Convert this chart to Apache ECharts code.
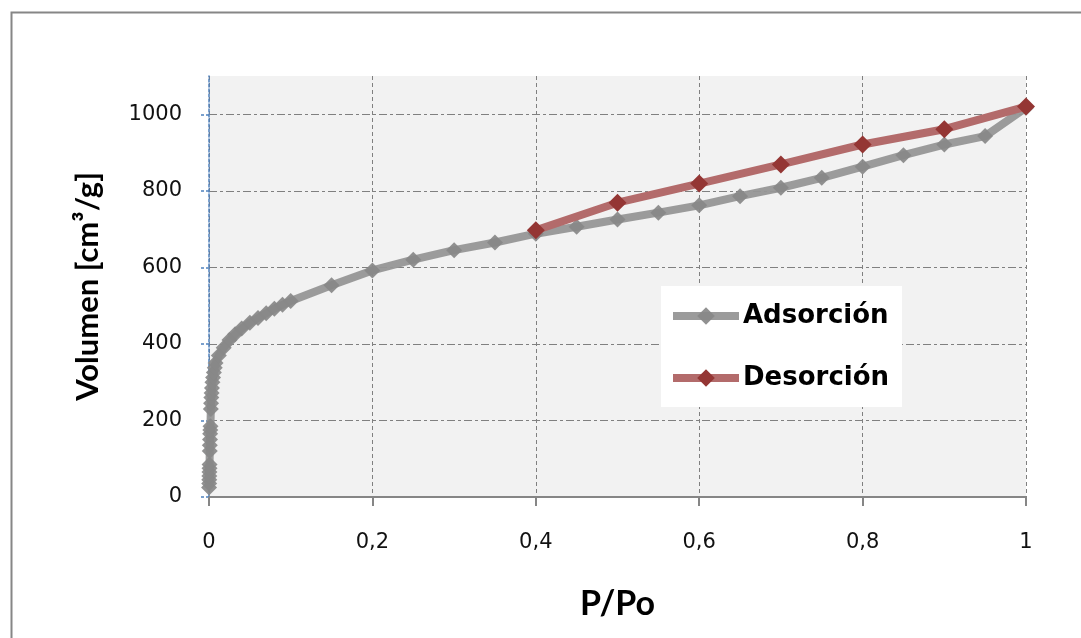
<!DOCTYPE html>
<html>
<head>
<meta charset="utf-8">
<script src="https://cdn.jsdelivr.net/npm/echarts@6/dist/echarts.min.js"></script>
<style>html,body{margin:0;padding:0;background:#fff;}#c{width:1081px;height:638px;}</style>
</head>
<body>
<div id="c"></div>
<script>
const seriesNames = ['Adsorción', 'Desorción'];
const adsorcionX = [0.0001,0.0002,0.0003,0.0004,0.0005,0.0006,0.0007,0.0009,0.001,0.0012,0.0014,0.0016,0.0018,0.0022,0.0025,0.0028,0.0032,0.0036,0.0042,0.005,0.006,0.007,0.008,0.012,0.018,0.025,0.032,0.04,0.05,0.06,0.07,0.08,0.09,0.1,0.15,0.2,0.25,0.3,0.35,0.4,0.45,0.5,0.55,0.6,0.65,0.7,0.75,0.8,0.85,0.9,0.95,1.0];
const adsorcionY = [25,35,45,55,65,75,85,120,135,150,165,175,185,230,245,260,272,285,300,312,325,338,350,370,390,410,425,440,455,468,480,492,502,512,553,592,620,645,665,688,706,725,743,762,786,808,834,863,893,921,943,1017];
const desorcionX = [0.4,0.5,0.6,0.7,0.8,0.9,1.0];
const desorcionY = [697,769,819,869,921,961,1020];
const xTickValues = [0, 0.2, 0.4, 0.6, 0.8, 1];
const xTicks = ['0','0,2','0,4','0,6','0,8','1'];
const yTickValues = [0, 200, 400, 600, 800, 1000];
const yTicks = ['0','200','400','600','800','1000'];

const pair = (xs, ys) => xs.map((x, i) => [x, ys[i]]);
const TITLE_FONT = 'Lato, "Open Sans", sans-serif';
const TICK_FONT = '"DejaVu Sans", Verdana, sans-serif';

const chart = echarts.init(document.getElementById('c'), null, {renderer: 'canvas'});
chart.setOption({
  animation: false,
  backgroundColor: '#ffffff',
  graphic: [{
    type: 'rect', left: 9, top: 10,
    shape: {x: 0, y: 0, width: 1100, height: 700},
    style: {fill: 'none', stroke: '#868686', lineWidth: 2},
    silent: true
  }],
  grid: {
    left: 209, right: 55, top: 76, bottom: 141,
    show: true, backgroundColor: '#f2f2f2', borderWidth: 0
  },
  legend: {
    left: 661, top: 286,
    orient: 'vertical',
    backgroundColor: '#ffffff',
    padding: [15, 13, 14, 8],
    itemGap: 32,
    itemWidth: 66, itemHeight: 22,
    lineStyle: {width: 8},
    textStyle: {fontFamily: TICK_FONT, fontSize: 26, lineHeight: 30, color: '#000', fontWeight: 'bold', padding: [0, 0, 0, -1]},
    data: [seriesNames[0], seriesNames[1]]
  },
  xAxis: {
    type: 'value', min: 0, max: 1, interval: 0.2,
    name: 'P/Po', nameLocation: 'middle', nameGap: 90,
    nameTextStyle: {fontFamily: TITLE_FONT, fontSize: 34, fontWeight: 'bold', color: '#000'},
    axisLine: {show: true, lineStyle: {color: '#868686', width: 2}},
    axisTick: {show: true, length: 9, lineStyle: {color: '#868686', width: 2}},
    axisLabel: {
      margin: 35, fontFamily: TICK_FONT, fontSize: 21, color: '#111',
      formatter: v => xTicks[xTickValues.findIndex(t => Math.abs(t - v) < 1e-9)]
    },
    splitLine: {show: true, lineStyle: {color: '#808080', type: [4, 3], width: 1}}
  },
  yAxis: {
    type: 'value', min: 0, max: 1100, interval: 100,
    name: 'Volumen [cm³/g]', nameLocation: 'middle', nameGap: 106,
    nameTextStyle: {fontFamily: TITLE_FONT, fontSize: 31, fontWeight: 'bold', color: '#000'},
    axisLine: {show: true, lineStyle: {color: '#4f81bd', type: [3, 2], width: 1.5}},
    axisTick: {show: true, length: 9, customValues: yTickValues, lineStyle: {color: '#4f81bd', type: [3, 2], width: 1.5}},
    axisLabel: {
      margin: 27, fontFamily: TICK_FONT, fontSize: 21, color: '#111',
      customValues: yTickValues,
      formatter: v => yTicks[yTickValues.indexOf(v)]
    },
    splitLine: {show: true, lineStyle: {color: '#808080', type: [8, 3, 3, 3], width: 1.2}}
  },
  series: [
    {
      name: seriesNames[0], type: 'line',
      data: pair(adsorcionX, adsorcionY),
      symbol: 'diamond', symbolSize: 16, showAllSymbol: true,
      lineStyle: {color: 'rgba(150,150,150,0.95)', width: 8},
      itemStyle: {color: '#888888', opacity: 0.92},
      z: 2
    },
    {
      name: seriesNames[1], type: 'line',
      data: pair(desorcionX, desorcionY),
      symbol: 'diamond', symbolSize: 18,
      lineStyle: {color: '#b36b6b', width: 8},
      itemStyle: {color: '#943634'},
      z: 3
    }
  ]
});
</script>
</body>
</html>
